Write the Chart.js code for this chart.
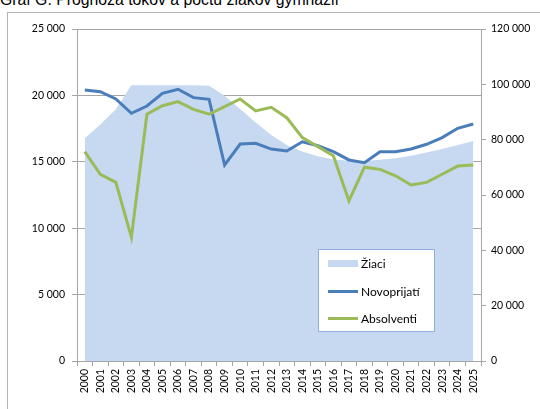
<!DOCTYPE html>
<html>
<head>
<meta charset="utf-8">
<script src="https://cdn.jsdelivr.net/npm/chart.js@4"></script>
<style>
  html, body { margin: 0; padding: 0; background: #fff; }
  #wrap { position: relative; width: 540px; height: 409px; overflow: hidden; }
  #title {
    position: absolute; left: 0; top: -9px;
    font-family: "Liberation Sans", Arial, sans-serif; font-size: 15.8px; color: #000;
    white-space: nowrap;
  }
  #frame {
    position: absolute; left: 7px; top: 12px; width: 560px; height: 420px;
    border-left: 1px solid #b4b4b4; border-top: 1px solid #b4b4b4;
  }
  canvas { position: absolute; left: 0; top: 0; }
</style>
</head>
<body>
<div id="wrap">
  <div id="title">Graf G: Prognóza tokov a počtu žiakov gymnázií</div>
  <div id="frame"></div>
  <canvas id="chart" width="540" height="409"></canvas>
</div>
<script>
const years = ['2000', '2001', '2002', '2003', '2004', '2005', '2006', '2007', '2008', '2009',
    '2010', '2011', '2012', '2013', '2014', '2015', '2016', '2017', '2018', '2019',
    '2020', '2021', '2022', '2023', '2024', '2025'];

// Žiaci (right axis)
const ziaci = [80500, 85500, 91000, 99700, 99700, 99700, 99700, 99700, 99500, 95900,
    91100, 86200, 81700, 78100, 75700, 74000, 72800, 72400, 72300, 72700,
    73300, 74200, 75400, 76600, 78100, 79500];

// Novoprijatí (left axis)
const novoprijati = [20400, 20280, 19730, 18650, 19200, 20160, 20460, 19830, 19700, 14760,
    16340, 16390, 15960, 15810, 16510, 16210, 15760, 15140, 14930, 15760,
    15760, 15960, 16320, 16820, 17520, 17850];

// Absolventi (left axis)
const absolventi = [15760, 14060, 13450, 9310, 18580, 19220, 19530, 18950, 18580, 19150,
    19730, 18830, 19100, 18320, 16820, 16140, 15460, 12050, 14590, 14430,
    13950, 13250, 13450, 14060, 14680, 14760];

const AREA_COLOR = '#c6d9f1';
const BLUE = '#4a7ebb';
const GREEN = '#9bbb59';
const AXIS_COLOR = '#a6a6a6';
const FONT = 'Lato, "Open Sans", sans-serif';

function spaced(v) {
    return String(v).replace(/\B(?=(\d{3})+(?!\d))/g, ' ');
}

// legend box drawn on the canvas, bordered like the original
const boxLegend = {
    id: 'boxLegend',
    afterDraw(chart) {
        const ctx = chart.ctx;
        const x = 318, y = 249, w = 116, h = 82;
        ctx.save();
        ctx.fillStyle = '#fff';
        ctx.fillRect(x, y, w, h);
        ctx.strokeStyle = '#8eb0da';
        ctx.lineWidth = 1;
        ctx.strokeRect(x + 0.5, y + 0.5, w, h);

        const rows = [263, 291, 318];
        const items = [
            { label: 'Žiaci', ds: chart.data.datasets[0], area: true },
            { label: 'Novoprijatí', ds: chart.data.datasets[1] },
            { label: 'Absolventi', ds: chart.data.datasets[2] }
        ];
        ctx.font = '12px ' + FONT;
        ctx.textBaseline = 'middle';
        items.forEach((it, i) => {
            const cy = rows[i];
            if (it.area) {
                ctx.fillStyle = it.ds.backgroundColor;
                ctx.fillRect(328, cy - 3, 30, 7);
            } else {
                ctx.strokeStyle = it.ds.borderColor;
                ctx.lineWidth = 3;
                ctx.beginPath();
                ctx.moveTo(328, cy + 0.5);
                ctx.lineTo(358, cy + 0.5);
                ctx.stroke();
            }
            ctx.fillStyle = '#000';
            ctx.fillText(it.label, 361, cy + 1);
        });
        ctx.restore();
    }
};

new Chart(document.getElementById('chart').getContext('2d'), {
    type: 'line',
    data: {
        labels: years,
        datasets: [{
            label: 'Žiaci',
            data: ziaci,
            yAxisID: 'y1',
            backgroundColor: AREA_COLOR,
            borderWidth: 0,
            borderColor: AREA_COLOR,
            fill: 'origin',
            pointRadius: 0,
            tension: 0,
            order: 2
        }, {
            label: 'Novoprijatí',
            data: novoprijati,
            yAxisID: 'y',
            borderColor: BLUE,
            borderWidth: 3,
            pointRadius: 0,
            fill: false,
            tension: 0,
            order: 1
        }, {
            label: 'Absolventi',
            data: absolventi,
            yAxisID: 'y',
            borderColor: GREEN,
            borderWidth: 3,
            pointRadius: 0,
            fill: false,
            tension: 0,
            order: 0
        }]
    },
    options: {
        responsive: false,
        animation: false,
        layout: { padding: { top: 29, left: 0, right: 0, bottom: 0 } },
        plugins: {
            legend: { display: false },
            tooltip: { enabled: false }
        },
        scales: {
            x: {
                offset: true,
                grid: { offset: true, drawOnChartArea: false, color: AXIS_COLOR, tickLength: 5 },
                border: { color: AXIS_COLOR },
                ticks: {
                    minRotation: 90, maxRotation: 90, autoSkip: false, padding: 3,
                    color: '#000', font: { family: FONT, size: 10.5 }
                },
                afterFit: s => { s.height = 48; }
            },
            y: {
                position: 'left',
                min: 0, max: 25000,
                ticks: {
                    stepSize: 5000, padding: 7, color: '#000',
                    font: { family: FONT, size: 10.5 },
                    callback: v => spaced(v)
                },
                grid: { color: AXIS_COLOR, tickLength: 5 },
                border: { color: AXIS_COLOR },
                afterFit: s => { s.width = 77; }
            },
            y1: {
                position: 'right',
                min: 0, max: 120000,
                ticks: {
                    stepSize: 20000, padding: 5, color: '#000',
                    font: { family: FONT, size: 10.5 },
                    callback: v => spaced(v)
                },
                grid: { drawOnChartArea: false, color: AXIS_COLOR, tickLength: 5 },
                border: { color: AXIS_COLOR },
                afterFit: s => { s.width = 59; }
            }
        }
    },
    plugins: [boxLegend]
});
</script>
</body>
</html>
